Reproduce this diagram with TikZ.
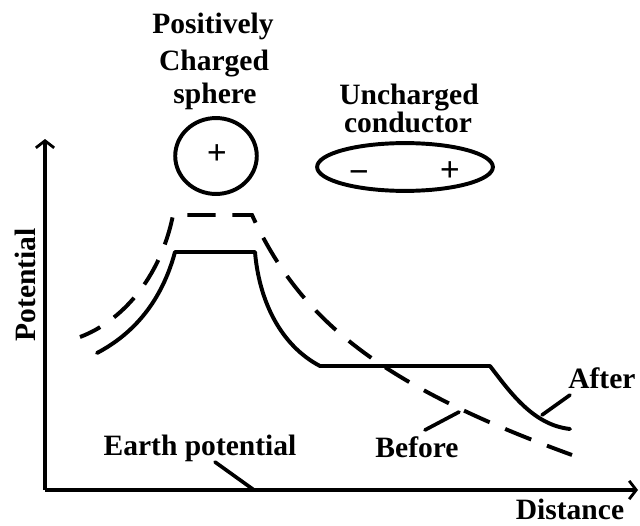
\documentclass[tikz,border=0pt]{standalone}
\usepackage{fontspec}
\setmainfont{Liberation Serif}
\usetikzlibrary{shapes.geometric,arrows.meta}
\begin{document}
\begin{tikzpicture}[x=0.025cm,y=-0.025cm,
  lbl/.style={font=\bfseries\fontsize{21}{25}\selectfont, inner sep=0pt, anchor=base},
  sign/.style={font=\bfseries\fontsize{25}{28}\selectfont, inner sep=0pt},
  curve/.style={line width=2.8pt, line cap=round, line join=round},
  beforecurve/.style={line width=2.8pt, line cap=butt, line join=miter, dash pattern=on 20pt off 12pt, dash phase=4pt},
  axis/.style={line width=2.2pt, -{Straight Barb[length=5pt,width=13pt,line width=2pt]}},
  pointer/.style={line width=2.6pt, line cap=round},
  obj/.style={draw, line width=2.8pt, ellipse, inner sep=0pt}]
\useasboundingbox[fill=white] (0,0) rectangle (640,526);

% labels above
\node[lbl] (pos1) at (213,33) {Positively};
\node[lbl] (pos2) at (214,70) {Charged};
\node[lbl] (pos3) at (215,103) {sphere};
\node[lbl] (unc1) at (409,104) {Uncharged};
\node[lbl] (unc2) at (408,132) {conductor};

% objects
\node[obj, minimum width=58pt, minimum height=54pt] (sphere) at (216,156) {};
\node[sign] (splus) at (217,155) {+};
\node[obj, minimum width=125pt, minimum height=34pt] (cond) at (405,167) {};
\node[sign] (cminus) at (359,177) {−};
\node[sign] (cplus) at (450,172) {+};

% axes
\coordinate (O) at (45,490);
\coordinate (ytip) at (45,139);
\coordinate (xtip) at (638,490);
\draw[axis] (O) -- (ytip);
\draw[axis] (O) -- (xtip);
\node[lbl, rotate=90] (ylab) at (35,285) {Potential};
\node[lbl] (xlab) at (570,519) {Distance};

% after (solid)
\draw[curve] (97,353) .. controls (135,333) and (162,300) .. (175,252)
  -- (255,252) .. controls (259,300) and (280,345) .. (320,366)
  -- (490,366) .. controls (510,392) and (533,425) .. (570,429);

% before (dashed)
\draw[beforecurve] (80,337) .. controls (120,322) and (160,280) .. (173,215)
  -- (252,215) .. controls (300,320) and (380,385) .. (572,455);

% pointer labels
\node[lbl, anchor=base west] (after) at (568,388) {After};
\node[lbl] (before) at (417,457) {Before};
\node[lbl] (earth) at (200,455) {Earth potential};
\coordinate (afterA) at (570,395);
\coordinate (afterB) at (542,415);
\coordinate (beforeA) at (425,430);
\coordinate (beforeB) at (459,412);
\coordinate (earthA) at (215,462);
\coordinate (earthB) at (254,490);
\draw[pointer] (afterA) -- (afterB);
\draw[pointer] (beforeA) -- (beforeB);
\draw[pointer] (earthA) -- (earthB);
\end{tikzpicture}
\end{document}
